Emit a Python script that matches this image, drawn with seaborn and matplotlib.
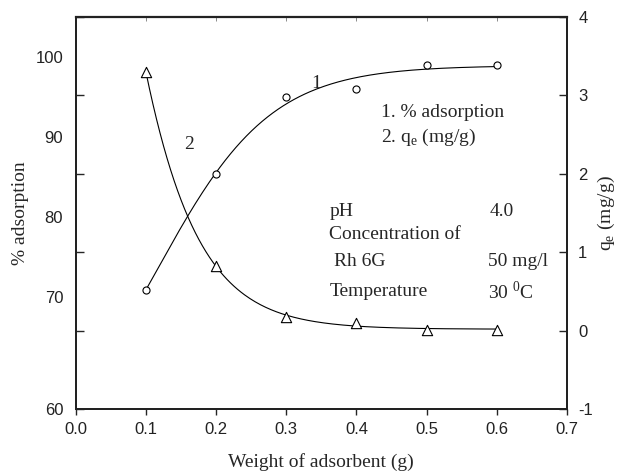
import numpy as np
import pandas as pd
import matplotlib
matplotlib.use("Agg")
import matplotlib.pyplot as plt
import seaborn as sns

# ---- data ----
weight = [0.1, 0.2, 0.3, 0.4, 0.5, 0.6]                 # g
pct_adsorption = [70.9, 85.3, 95.0, 95.9, 99.0, 99.0]   # %
qe = [3.30, 0.82, 0.18, 0.10, 0.01, 0.01]               # mg/g
left_tick_labels = ["60", "70", "80", "90", "100"]
right_ticks = [-1, 0, 1, 2, 3, 4]
x_ticks = [0.0, 0.1, 0.2, 0.3, 0.4, 0.5, 0.6, 0.7]

sns.set_style("ticks")
plt.rcParams["font.family"] = ["Liberation Serif", "DejaVu Serif"]
plt.rcParams["mathtext.fontset"] = "custom"
plt.rcParams["mathtext.rm"] = "Liberation Serif"

SANS = ["Liberation Sans", "DejaVu Sans"]


def sigmoid_fit(x, y):
    """Smooth curve y = a + b / (1 + exp(-k (x - x0))), least squares on a (k, x0) grid."""
    x = np.asarray(x, float)
    y = np.asarray(y, float)
    best = None
    for k in np.linspace(2, 60, 300):
        for x0 in np.linspace(-0.3, 0.4, 281):
            s = 1.0 / (1.0 + np.exp(-k * (x - x0)))
            A = np.column_stack([np.ones_like(s), s])
            coef, *_ = np.linalg.lstsq(A, y, rcond=None)
            err = np.sum((A @ coef - y) ** 2)
            if best is None or err < best[0]:
                best = (err, k, x0, coef)
    _, k, x0, coef = best
    xs = np.linspace(x[0], x[-1], 200)
    return xs, coef[0] + coef[1] / (1.0 + np.exp(-k * (xs - x0)))


fig = plt.figure(figsize=(6.18, 4.74), dpi=100)
fig.subplots_adjust(left=0.1225, right=0.9175, bottom=0.1371, top=0.9641)
ax = fig.add_subplot(111)
ax2 = ax.twinx()

# ---- curve 1: % adsorption (left axis) ----
xs1, ys1 = sigmoid_fit(weight, pct_adsorption)
sns.lineplot(x=xs1, y=ys1, ax=ax, color="black", lw=0.8)
sns.scatterplot(x=weight, y=pct_adsorption, ax=ax, marker="o", s=26,
                facecolor="white", edgecolor="black", linewidth=0.8, zorder=3)

# ---- curve 2: qe (right axis) ----
xs2, ys2 = sigmoid_fit(weight, qe)
sns.lineplot(x=xs2, y=ys2, ax=ax2, color="black", lw=0.8)
sns.scatterplot(x=weight, y=qe, ax=ax2, marker="^", s=55,
                facecolor="white", edgecolor="black", linewidth=0.8, zorder=3)

# ---- axes limits / ticks ----
ax.set_xlim(0.0, 0.7)
ax.set_xticks(x_ticks)
ax.set_xticklabels([f"{v:.1f}" for v in x_ticks], fontfamily=SANS, fontsize=12, color="#222222")
ax.tick_params(axis="x", direction="out", length=4, width=1, pad=5)

left_lo, left_hi = 56.0, 104.95
ax.set_ylim(left_lo, left_hi)
ax.set_yticks([left_lo, 70, 80, 90, 100])
ax.set_yticklabels(left_tick_labels, fontfamily=SANS, fontsize=12, color="#222222")
ax.tick_params(axis="y", length=0, pad=9)

ax2.set_ylim(-1, 4)
ax2.set_yticks(right_ticks)
ax2.set_yticklabels([str(v) for v in right_ticks], fontfamily=SANS, fontsize=12, color="#222222")
ax2.yaxis.set_ticks_position("both")
ax2.tick_params(axis="y", direction="in", length=6, width=1, left=True, right=True,
                labelleft=False, labelright=True, pad=8)
# top ticks (inward)
ax2.xaxis.set_visible(True)
ax2.xaxis.set_ticks_position("top")
ax2.tick_params(axis="x", direction="in", length=3, width=0.6, top=True, bottom=False,
                labeltop=False, labelbottom=False, color="#777777")

for a in (ax, ax2):
    for s in a.spines.values():
        s.set_linewidth(1.4)
        s.set_color("#222222")
ax2.spines["top"].set_linewidth(1.6)

# ---- labels ----
ax.set_xlabel("Weight of adsorbent (g)", fontsize=14, va="center", ha="center")
ax.xaxis.set_label_coords(0.5, -0.134)
ax.set_ylabel("% adsorption", fontsize=14, va="center", ha="center")
ax.yaxis.set_label_coords(-0.113, 0.5)
ax2.set_ylabel(r"q$_\mathregular{e}$ (mg/g)", fontsize=14, va="center", ha="center")
ax2.yaxis.set_label_coords(1.081, 0.5)

# ---- annotations ----
ax.text(0.342, 96.6, "1", fontsize=14, ha="center", va="center")
ax.text(0.161, 89.0, "2", fontsize=14, ha="center", va="center")

tr = ax.transAxes
ax.text(0.621, 0.756, "1. % adsorption", fontsize=14, va="center", transform=tr)
ax.text(0.621, 0.694, r"2. q$_\mathregular{e}$ (mg/g)", fontsize=14, va="center", transform=tr)
ax.text(0.516, 0.503, "pH", fontsize=14, va="center", transform=tr)
ax.text(0.842, 0.503, "4.0", fontsize=14, va="center", transform=tr)
ax.text(0.516, 0.446, "Concentration of", fontsize=14, va="center", transform=tr)
ax.text(0.526, 0.376, "Rh 6G", fontsize=14, va="center", transform=tr)
ax.text(0.840, 0.376, "50 mg/l", fontsize=14, va="center", transform=tr)
ax.text(0.516, 0.299, "Temperature", fontsize=14, va="center", transform=tr)
ax.text(0.840, 0.299, r"30 $^\mathregular{0}$C", fontsize=14, va="center", transform=tr)

fig.savefig("out.png", dpi=100)
